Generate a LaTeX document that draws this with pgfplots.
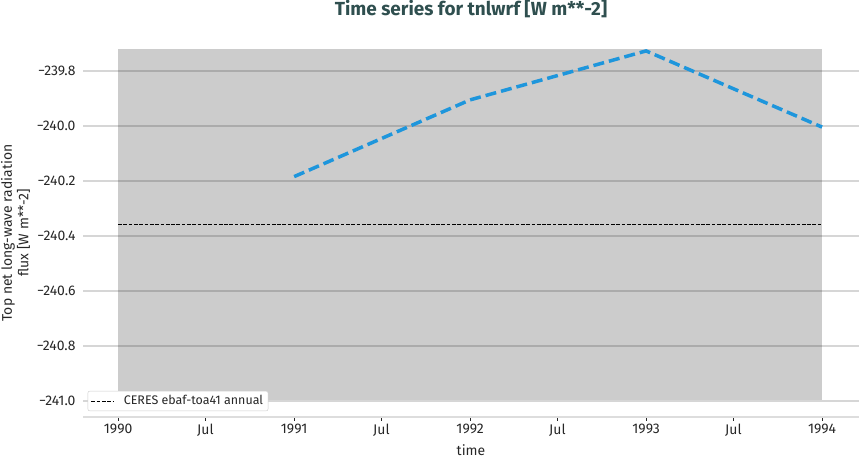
\documentclass[border=0pt]{standalone}
\usepackage{fontspec}
\setmainfont{Fira Sans}
\usepackage{pgfplots}
\pgfplotsset{compat=1.18}
\definecolor{ttl}{HTML}{2F4F4F}
\definecolor{ln}{HTML}{1E96DC}
\definecolor{bg}{HTML}{CCCCCC}
\definecolor{spine}{HTML}{DDDDDD}
\definecolor{txt}{HTML}{262626}
\begin{document}
\begin{tikzpicture}
\begin{axis}[
  set layers,
  scale only axis, width=776bp, height=368bp,
  xmin=1989.80, xmax=1994.21, ymin=-241.058, ymax=-239.72,
  axis x line*=bottom, axis y line*=left,
  x axis line style={spine, line width=1.3bp, -},
  y axis line style={draw=none},
  tick align=outside,
  x tick style={txt, line width=0.9bp},
  major tick length=4bp,
  y tick style={draw=none},
  xtick={1990,1990.496,1991,1991.496,1992,1992.496,1993,1993.496,1994},
  xticklabels={1990,Jul,1991,Jul,1992,Jul,1993,Jul,1994},
  ytick={-241,-240.8,-240.6,-240.4,-240.2,-240,-239.8},
  yticklabels={−241.0,−240.8,−240.6,−240.4,−240.2,−240.0,−239.8},
  ymajorgrids,
  grid style={black, opacity=0.16, line width=1.3bp},
  tick label style={font=\fontsize{14}{16}\selectfont, text=txt},
  ylabel={Top net long-wave radiation\\flux [W m**-2]},
  ylabel style={align=center, font=\fontsize{14}{16.5}\selectfont, text=txt},
  xlabel={time},
  xlabel style={font=\fontsize{14}{16}\selectfont, text=txt, at={(0.5,0)}, anchor=base, yshift=-38bp},
  title={Time series for tnlwrf [W m**-2]},
  title style={font=\fontsize{19}{22}\selectfont\bfseries, text=ttl, at={(0.5,1)}, anchor=base, yshift=28bp},
  legend style={at={(0.006,0.016)}, anchor=south west, draw=bg, rounded corners=2bp, fill=white,
    font=\fontsize{12.5}{14}\selectfont, text=txt, inner xsep=3bp, inner ysep=2.5bp},
  legend image code/.code={\draw[#1] (0bp,0bp) -- (22bp,0bp);},
  legend cell align=left,
  legend style={/tikz/every even column/.append style={column sep=6bp}},
]
\addplot[fill=bg, draw=none, on layer=axis background, forget plot]
  coordinates {(1990,-240.995) (1994,-240.995) (1994,-239.72) (1990,-239.72)};
\addplot[ln, line width=3.5bp, dash pattern=on 11bp off 5bp, forget plot]
  coordinates {(1991,-240.184) (1992,-239.905) (1993,-239.727) (1994,-240.004)};
\addplot[black, line width=1bp, dash pattern=on 3.7bp off 1.6bp]
  coordinates {(1990,-240.357) (1994,-240.357)};
\addlegendentry{\hspace{8bp}CERES ebaf-toa41 annual}
\end{axis}
\pgfresetboundingbox
\path ([shift={(-83bp,-40bp)}]current axis.south west) rectangle ([shift={(0bp,49bp)}]current axis.north east);
\end{tikzpicture}
\end{document}
